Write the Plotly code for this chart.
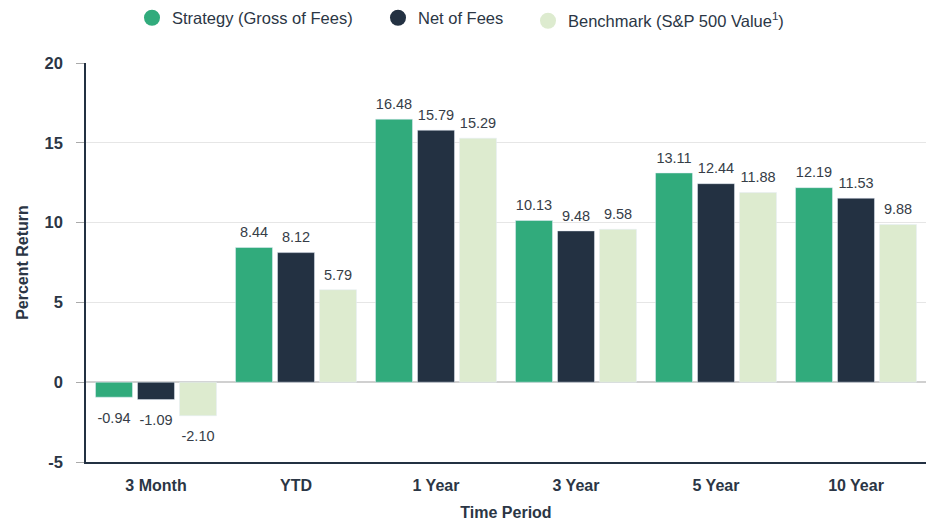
import plotly.graph_objects as go

categories = ["3 Month", "YTD", "1 Year", "3 Year", "5 Year", "10 Year"]
strategy = [-0.94, 8.44, 16.48, 10.13, 13.11, 12.19]
net = [-1.09, 8.12, 15.79, 9.48, 12.44, 11.53]
bench = [-2.10, 5.79, 15.29, 9.58, 11.88, 9.88]
names = ["Strategy (Gross of Fees)", "Net of Fees", "Benchmark (S&P 500 Value<sup>1</sup>)"]
colors = ["#31AB7C", "#233142", "#DDEBCF"]
series = [strategy, net, bench]
ytick_vals = [-5, 0, 5, 10, 15, 20]
ytick_text = ["-5", "0", "5", "10", "15", "20"]

FONT = "Liberation Sans, Arial, sans-serif"
legend_names = ["legend", "legend2", "legend3"]
legend_x = [132 / 930, 378 / 930, 528 / 930]
legend_y = [1 - 18 / 523, 1 - 18 / 523, 1 - 21 / 523]

fig = go.Figure()
for i, (vals, c) in enumerate(zip(series, colors)):
    fig.add_trace(go.Bar(
        x=categories, y=vals, marker_color=c, showlegend=False,
        offsetgroup=str(i),
    ))
    fig.add_trace(go.Scatter(
        x=categories, y=vals, mode="markers+text", showlegend=False,
        offsetgroup=str(i),
        marker=dict(size=[9 if v >= 0 else 22 for v in vals], opacity=0, color=c),
        text=[f"{v:.2f}" for v in vals],
        textposition=["top center" if v >= 0 else "bottom center" for v in vals],
        textfont=dict(size=14.5, color="#363d47", family=FONT),
        cliponaxis=False, hoverinfo="skip",
    ))
for n, c, lg in zip(names, colors, legend_names):
    fig.add_trace(go.Scatter(
        x=[None], y=[None], mode="markers", name=n, legend=lg,
        marker=dict(symbol="circle", size=16, color=c),
    ))

leg_common = dict(orientation="h", xref="container", yref="container",
                  xanchor="left", yanchor="middle",
                  font=dict(size=16.5, color="#2b3645", family=FONT),
                  bgcolor="rgba(0,0,0,0)")

fig.update_layout(
    width=930, height=523,
    margin=dict(l=86, r=4, t=63, b=61),
    plot_bgcolor="white", paper_bgcolor="white",
    font=dict(family=FONT, color="#2b3645"),
    barmode="group", bargap=0.1, bargroupgap=0.12,
    scattermode="group", scattergap=0.1,
    legend=dict(x=legend_x[0], y=legend_y[0], **leg_common),
    legend2=dict(x=legend_x[1], y=legend_y[1], **leg_common),
    legend3=dict(x=legend_x[2], y=legend_y[2], **leg_common),
    xaxis=dict(showline=True, linecolor="#233142", linewidth=1.5,
               tickfont=dict(size=16, color="#2b3645", family=FONT),
               ticklabelstandoff=8,
               title=dict(text="<b>Time Period</b>", font=dict(size=16), standoff=14),
               tickprefix="<b>", ticksuffix="</b>"),
    yaxis=dict(range=[-5, 20], tickmode="array", tickvals=ytick_vals,
               ticktext=[f"<b>{t}</b>" for t in ytick_text],
               showline=True, linecolor="#233142", linewidth=1.5,
               showgrid=True, gridcolor="#e6e6e6", zeroline=True, zerolinecolor="#d0d0d0",
               ticks="outside", ticklen=8, tickcolor="#aaaaaa",
               ticklabelstandoff=10,
               tickfont=dict(size=16.5),
               title=dict(text="<b>Percent Return</b>", font=dict(size=16), standoff=12)),
)
fig.write_html("out.html")
